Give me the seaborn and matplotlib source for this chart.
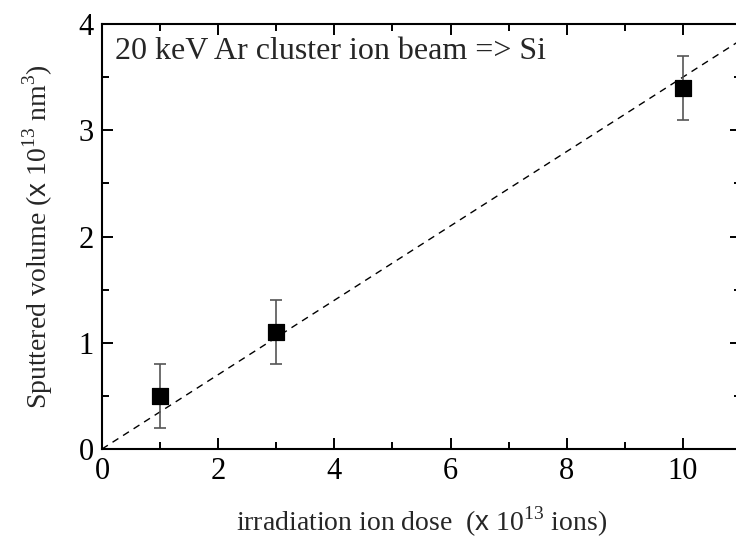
import matplotlib
matplotlib.use("Agg")
import matplotlib.pyplot as plt
from matplotlib.ticker import MultipleLocator
import numpy as np
import pandas as pd
import seaborn as sns

# data
dose = [1, 3, 10]
volume = [0.5, 1.1, 3.4]
volume_err = [0.3, 0.3, 0.3]
fit_x = [0, 11]
fit_y = [0, 3.85]
x_ticks = [0, 2, 4, 6, 8, 10]
y_ticks = [0, 1, 2, 3, 4]

pts = pd.DataFrame({"dose": dose, "volume": volume})
fit = pd.DataFrame({"dose": fit_x, "volume": fit_y})

sns.set_theme(style="ticks")
plt.rcParams['font.family'] = ['Liberation Serif', 'DejaVu Serif']
plt.rcParams['mathtext.fontset'] = 'custom'
plt.rcParams['mathtext.rm'] = 'Liberation Serif'
plt.rcParams['mathtext.sf'] = 'Liberation Sans'

W, H = 736, 545
fig = plt.figure(figsize=(W / 100, H / 100), dpi=100)
ax = fig.add_axes([102 / W, 1 - 449 / H, 639 / W, (449 - 24) / H])

sns.lineplot(data=fit, x="dose", y="volume", ax=ax, color="black",
             linestyle=(0, (5, 4)), linewidth=1.0)
ax.errorbar(dose, volume, yerr=volume_err, fmt="none", ecolor="#555555",
            elinewidth=1.2, capsize=4.5, capthick=1.2, zorder=3)
sns.scatterplot(data=pts, x="dose", y="volume", ax=ax, marker="s", s=120,
                color="black", edgecolor="black", zorder=4)

ax.set_xlim(0, 11)
ax.set_ylim(0, 4)
ax.set_xticks(x_ticks)
ax.set_yticks(y_ticks)
ax.xaxis.set_minor_locator(MultipleLocator(1))
ax.yaxis.set_minor_locator(MultipleLocator(0.5))
ax.tick_params(which="both", direction="in", top=True, right=True, width=1.4,
               labelsize=22, colors="black")
ax.tick_params(which="major", length=8, pad=6)
ax.tick_params(which="minor", length=5)
for s in ax.spines.values():
    s.set_linewidth(1.5)
    s.set_color("black")

ax.set_xlabel(r"irradiation ion dose  ($\mathsf{x}$ 10$^{13}$ ions)", fontsize=20, labelpad=13)
ax.set_ylabel(r"Sputtered volume ($\mathsf{x}$ 10$^{13}$ nm$^{3}$)", fontsize=20, labelpad=17)

ax.text(0.22, 3.74, "20 keV Ar cluster ion beam => Si", fontsize=23,
        ha="left", va="center")

fig.savefig("out.png", dpi=100)
